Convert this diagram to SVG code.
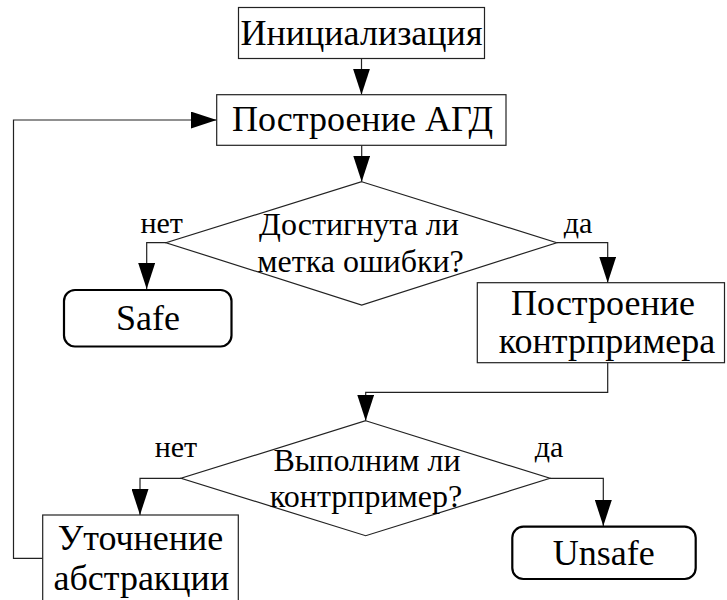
<svg xmlns="http://www.w3.org/2000/svg" width="727" height="600" viewBox="0 0 727 600">
<style>
.box{fill:#fff;stroke:#222;stroke-width:1.2}
.term{fill:#fff;stroke:#000;stroke-width:2.2}
.dia{fill:#fff;stroke:#222;stroke-width:1.2}
.ln{fill:none;stroke:#222;stroke-width:1.2}
text{fill:#000;text-anchor:middle}
.big{font-size:36px}
.mid{font-size:32px}
.lbl{font-size:30px}
</style>
<defs>
<marker id="ah" markerWidth="26" markerHeight="17" refX="26" refY="8.5" orient="auto" markerUnits="userSpaceOnUse">
<path d="M0,0 L26,8.5 L0,17 Z" fill="#000"/>
</marker>
</defs>
<g id="connectors">
<path class="ln" d="M361.5,58.5 V94.7" marker-end="url(#ah)"/>
<path class="ln" d="M361.7,145.3 V181.7" marker-end="url(#ah)"/>
<path class="ln" d="M166,242.7 H146.7 V289" marker-end="url(#ah)"/>
<path class="ln" d="M556.7,242.7 H607.7 V282.7" marker-end="url(#ah)"/>
<path class="ln" d="M607.7,362.7 V392.3 H365.7 V420.7" marker-end="url(#ah)"/>
<path class="ln" d="M181,478.3 H140 V515" marker-end="url(#ah)"/>
<path class="ln" d="M550,478.3 H603.3 V526" marker-end="url(#ah)"/>
<path class="ln" d="M42.7,558.3 H13.5 V120 H216.7" marker-end="url(#ah)"/>
</g>
<g font-family="Liberation Serif, DejaVu Serif, serif">
<g id="init">
<rect class="box" x="238.5" y="7.5" width="246" height="51"/>
<text class="big" x="361.5" y="45">Инициализация</text>
</g>
<g id="build-agd">
<rect class="box" x="216.7" y="94.7" width="289.3" height="50.6"/>
<text class="big" x="362.5" y="130.7">Построение АГД</text>
</g>
<g id="dec1">
<polygon class="dia" points="361.7,181.7 556.7,242.7 361.7,305 166,242.7"/>
<text class="mid" x="359" y="235">Достигнута ли</text>
<text class="mid" x="360.5" y="271.7">метка ошибки?</text>
</g>
<g id="lbl1">
<text class="lbl" x="161.7" y="233.3">нет</text>
<text class="lbl" x="578" y="233.3">да</text>
</g>
<g id="safe">
<rect class="term" x="64" y="290" width="167.5" height="56.5" rx="11" ry="11"/>
<text class="big" x="148" y="330">Safe</text>
</g>
<g id="build-cex">
<rect class="box" x="477.3" y="282.7" width="247.2" height="80"/>
<text class="big" x="603" y="315">Построение</text>
<text class="big" x="607" y="353.3">контрпримера</text>
</g>
<g id="dec2">
<polygon class="dia" points="365.7,420.7 550,478.3 365.7,535.7 181,478.3"/>
<text class="mid" x="367" y="470.7">Выполним ли</text>
<text class="mid" x="366" y="506.7">контрпример?</text>
</g>
<g id="lbl2">
<text class="lbl" x="176" y="457.3">нет</text>
<text class="lbl" x="549" y="457.3">да</text>
</g>
<g id="refine">
<rect class="box" x="42.7" y="515" width="195.6" height="100"/>
<text class="big" x="140.5" y="550">Уточнение</text>
<text class="big" x="141.3" y="590">абстракции</text>
</g>
<g id="unsafe">
<rect class="term" x="512.3" y="526.7" width="183.4" height="52.3" rx="11" ry="11"/>
<text class="big" x="603.7" y="565">Unsafe</text>
</g>
</g>
</svg>
